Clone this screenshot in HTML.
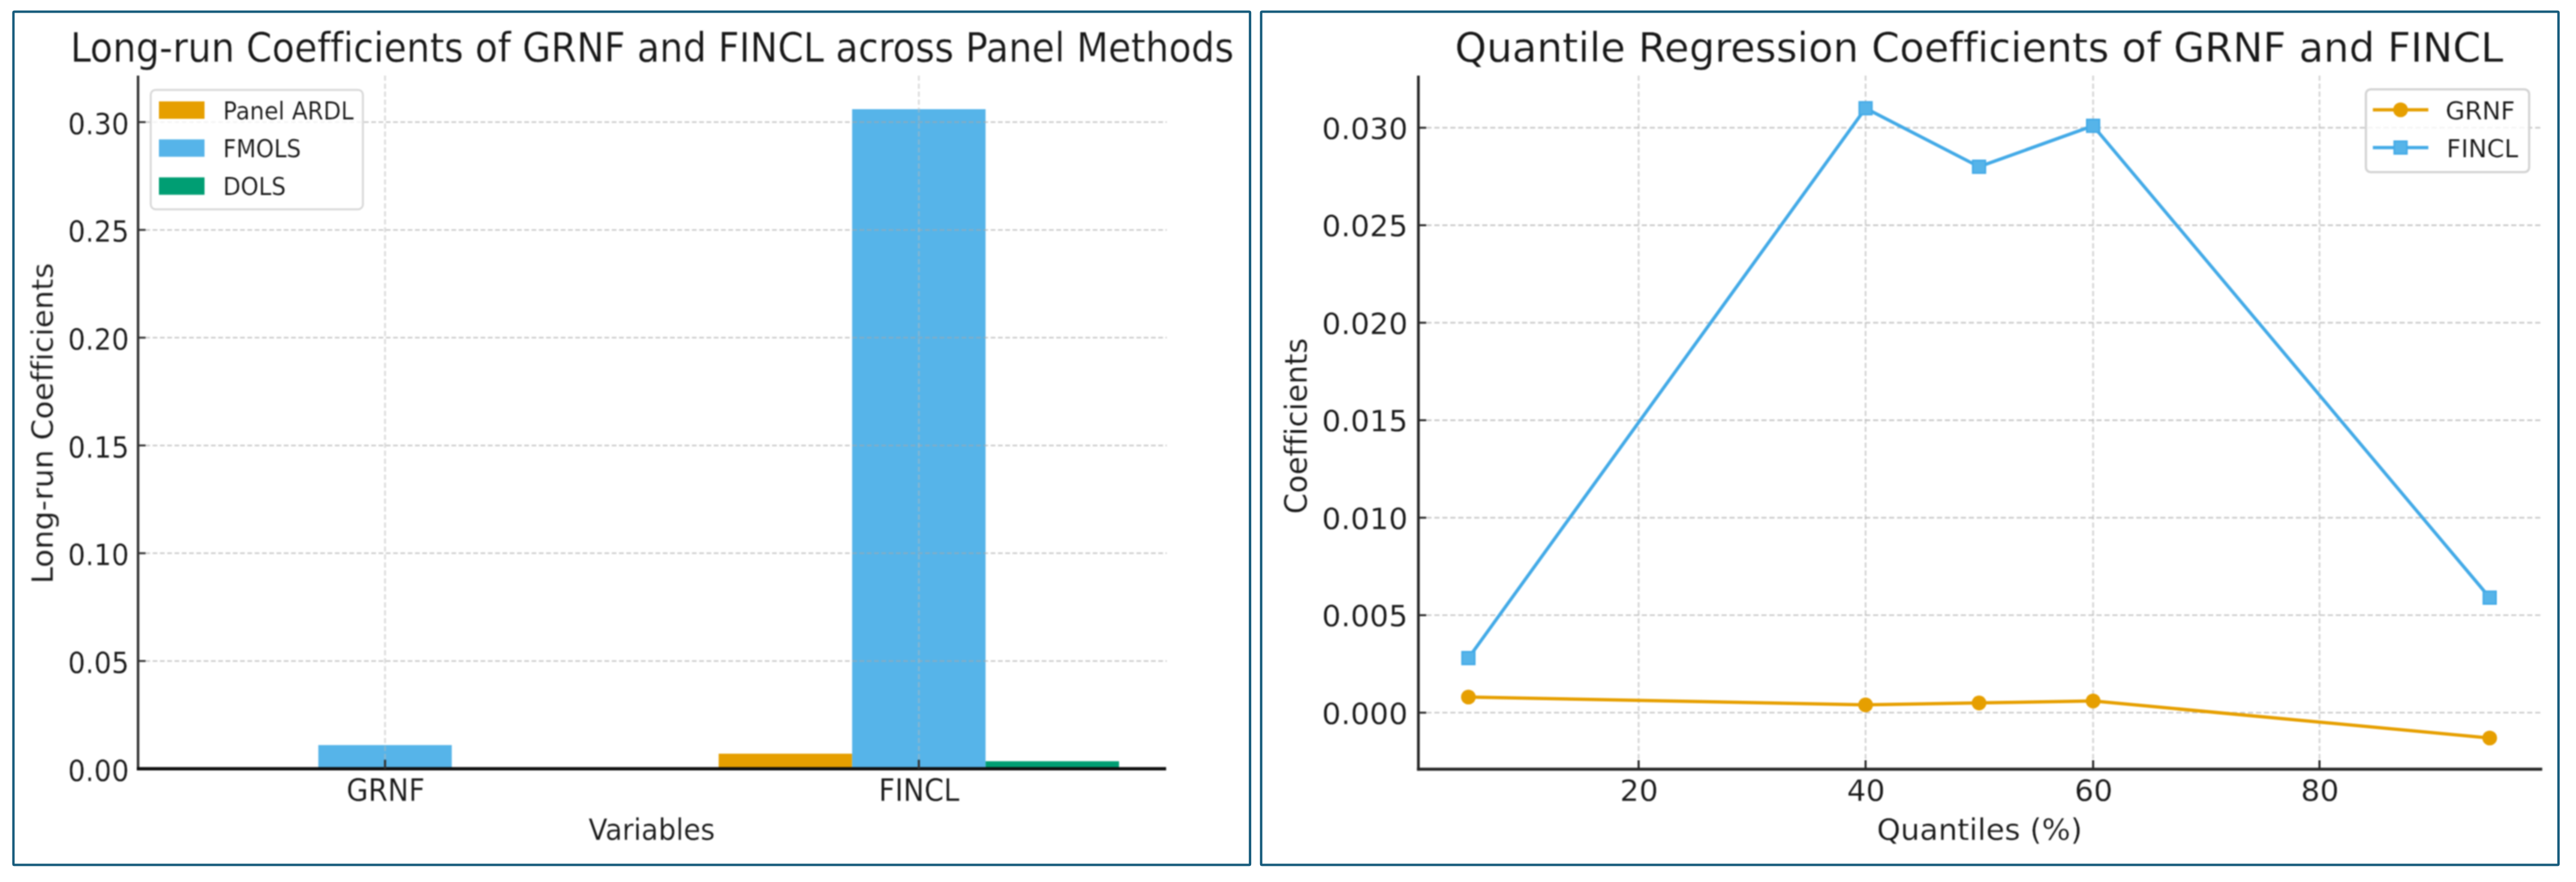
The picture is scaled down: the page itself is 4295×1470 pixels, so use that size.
<!DOCTYPE html>
<html lang="en"><head><meta charset="utf-8"><title>Long-run and Quantile Regression Coefficients of GRNF and FINCL</title>
<style>html,body{margin:0;padding:0;background:#fff}body{width:4295px;height:1470px;overflow:hidden}svg{display:block}text{font-variant-ligatures:none;font-kerning:normal;stroke:#fff;stroke-width:0.006em;paint-order:fill stroke}</style>
</head><body>
<svg width="4295" height="1470" viewBox="0 0 4295 1470" font-family='"DejaVu Sans","Liberation Sans",sans-serif'>
<rect x="0.00" y="0.00" width="4295.00" height="1470.00" fill="#fff" />
<defs><filter id="soft" x="0" y="0" width="100%" height="100%" filterUnits="userSpaceOnUse" color-interpolation-filters="sRGB"><feGaussianBlur stdDeviation="0.85"/></filter></defs>
<g filter="url(#soft)">
<rect x="1198.25" y="1256.15" width="222.50" height="25.15" fill="#E69F00" />
<rect x="530.75" y="1241.78" width="222.50" height="39.52" fill="#56B4E9" />
<rect x="1420.75" y="181.96" width="222.50" height="1099.34" fill="#56B4E9" />
<rect x="1643.25" y="1268.73" width="222.50" height="12.57" fill="#009E73" />
<line x1="230.20" y1="1101.67" x2="1945.30" y2="1101.67" stroke="#a8a8a8" stroke-width="2.5" stroke-dasharray="7.9 4.25" opacity="0.62"/>
<line x1="230.20" y1="922.04" x2="1945.30" y2="922.04" stroke="#a8a8a8" stroke-width="2.5" stroke-dasharray="7.9 4.25" opacity="0.62"/>
<line x1="230.20" y1="742.41" x2="1945.30" y2="742.41" stroke="#a8a8a8" stroke-width="2.5" stroke-dasharray="7.9 4.25" opacity="0.62"/>
<line x1="230.20" y1="562.78" x2="1945.30" y2="562.78" stroke="#a8a8a8" stroke-width="2.5" stroke-dasharray="7.9 4.25" opacity="0.62"/>
<line x1="230.20" y1="383.15" x2="1945.30" y2="383.15" stroke="#a8a8a8" stroke-width="2.5" stroke-dasharray="7.9 4.25" opacity="0.62"/>
<line x1="230.20" y1="203.52" x2="1945.30" y2="203.52" stroke="#a8a8a8" stroke-width="2.5" stroke-dasharray="7.9 4.25" opacity="0.62"/>
<line x1="642.00" y1="126.00" x2="642.00" y2="1281.30" stroke="#b8b8b8" stroke-width="3.0" stroke-dasharray="8.6 4.7" opacity="0.5"/>
<line x1="1532.00" y1="126.00" x2="1532.00" y2="1281.30" stroke="#b8b8b8" stroke-width="3.0" stroke-dasharray="8.6 4.7" opacity="0.5"/>
<line x1="230.20" y1="126.00" x2="230.20" y2="1283.90" stroke="#333333" stroke-width="4.2" />
<line x1="228.10" y1="1281.30" x2="1944.30" y2="1281.30" stroke="#101010" stroke-width="5.6" />
<line x1="230.20" y1="1101.67" x2="242.70" y2="1101.67" stroke="#333333" stroke-width="3.2" />
<line x1="230.20" y1="922.04" x2="242.70" y2="922.04" stroke="#333333" stroke-width="3.2" />
<line x1="230.20" y1="742.41" x2="242.70" y2="742.41" stroke="#333333" stroke-width="3.2" />
<line x1="230.20" y1="562.78" x2="242.70" y2="562.78" stroke="#333333" stroke-width="3.2" />
<line x1="230.20" y1="383.15" x2="242.70" y2="383.15" stroke="#333333" stroke-width="3.2" />
<line x1="230.20" y1="203.52" x2="242.70" y2="203.52" stroke="#333333" stroke-width="3.2" />
<line x1="642.00" y1="1281.30" x2="642.00" y2="1266.30" stroke="#333333" stroke-width="3.6" />
<line x1="1532.00" y1="1281.30" x2="1532.00" y2="1266.30" stroke="#333333" stroke-width="3.6" />
<text transform="translate(215.20,1301.60) scale(0.9170,1)" font-size="50" text-anchor="end" fill="#181818" >0.00</text>
<text transform="translate(215.20,1121.97) scale(0.9170,1)" font-size="50" text-anchor="end" fill="#181818" >0.05</text>
<text transform="translate(215.20,942.34) scale(0.9170,1)" font-size="50" text-anchor="end" fill="#181818" >0.10</text>
<text transform="translate(215.20,762.71) scale(0.9170,1)" font-size="50" text-anchor="end" fill="#181818" >0.15</text>
<text transform="translate(215.20,583.08) scale(0.9170,1)" font-size="50" text-anchor="end" fill="#181818" >0.20</text>
<text transform="translate(215.20,403.45) scale(0.9170,1)" font-size="50" text-anchor="end" fill="#181818" >0.25</text>
<text transform="translate(215.20,223.82) scale(0.9170,1)" font-size="50" text-anchor="end" fill="#181818" >0.30</text>
<text transform="translate(643.00,1335.40) scale(0.9170,1)" font-size="51" text-anchor="middle" fill="#181818" >GRNF</text>
<text transform="translate(1532.50,1335.40) scale(0.9170,1)" font-size="51" text-anchor="middle" fill="#181818" >FINCL</text>
<text transform="translate(1086.75,1400.40) scale(0.9170,1)" font-size="50.3" text-anchor="middle" fill="#181818" >Variables</text>
<text transform="translate(88.50,705.60) scale(0.9850,1) rotate(-90)" font-size="50.1" text-anchor="middle" fill="#181818" >Long-run Coefficients</text>
<text transform="translate(1087.25,102.80) scale(0.9170,1)" font-size="67" text-anchor="middle" fill="#181818" >Long-run Coefficients of GRNF and FINCL across Panel Methods</text>
<rect x="251.3" y="149.8" width="353.8" height="199.0" rx="8" ry="8" fill="#fff" fill-opacity="0.8" stroke="#d8d8d8" stroke-width="3.2"/>
<rect x="265.00" y="169.00" width="76.00" height="29.00" fill="#E69F00" />
<text transform="translate(372.00,198.70) scale(0.9170,1)" font-size="41.5" text-anchor="start" fill="#181818" >Panel ARDL</text>
<rect x="265.00" y="232.30" width="76.00" height="29.00" fill="#56B4E9" />
<text transform="translate(372.00,262.00) scale(0.9170,1)" font-size="41.5" text-anchor="start" fill="#181818" >FMOLS</text>
<rect x="265.00" y="295.60" width="76.00" height="29.00" fill="#009E73" />
<text transform="translate(372.00,325.30) scale(0.9170,1)" font-size="41.5" text-anchor="start" fill="#181818" >DOLS</text>
<line x1="2364.90" y1="1187.80" x2="4239.70" y2="1187.80" stroke="#a8a8a8" stroke-width="2.6" stroke-dasharray="8.6 4.7" opacity="0.62"/>
<line x1="2364.90" y1="1025.32" x2="4239.70" y2="1025.32" stroke="#a8a8a8" stroke-width="2.6" stroke-dasharray="8.6 4.7" opacity="0.62"/>
<line x1="2364.90" y1="862.84" x2="4239.70" y2="862.84" stroke="#a8a8a8" stroke-width="2.6" stroke-dasharray="8.6 4.7" opacity="0.62"/>
<line x1="2364.90" y1="700.36" x2="4239.70" y2="700.36" stroke="#a8a8a8" stroke-width="2.6" stroke-dasharray="8.6 4.7" opacity="0.62"/>
<line x1="2364.90" y1="537.88" x2="4239.70" y2="537.88" stroke="#a8a8a8" stroke-width="2.6" stroke-dasharray="8.6 4.7" opacity="0.62"/>
<line x1="2364.90" y1="375.40" x2="4239.70" y2="375.40" stroke="#a8a8a8" stroke-width="2.6" stroke-dasharray="8.6 4.7" opacity="0.62"/>
<line x1="2364.90" y1="212.92" x2="4239.70" y2="212.92" stroke="#a8a8a8" stroke-width="2.6" stroke-dasharray="8.6 4.7" opacity="0.62"/>
<line x1="2732.10" y1="126.00" x2="2732.10" y2="1282.00" stroke="#b8b8b8" stroke-width="3.0" stroke-dasharray="8.6 4.7" opacity="0.6"/>
<line x1="3110.50" y1="126.00" x2="3110.50" y2="1282.00" stroke="#b8b8b8" stroke-width="3.0" stroke-dasharray="8.6 4.7" opacity="0.6"/>
<line x1="3489.90" y1="126.00" x2="3489.90" y2="1282.00" stroke="#b8b8b8" stroke-width="3.0" stroke-dasharray="8.6 4.7" opacity="0.6"/>
<line x1="3867.30" y1="126.00" x2="3867.30" y2="1282.00" stroke="#b8b8b8" stroke-width="3.0" stroke-dasharray="8.6 4.7" opacity="0.6"/>
<line x1="2364.90" y1="126.00" x2="2364.90" y2="1284.30" stroke="#262626" stroke-width="4.5" />
<line x1="2362.65" y1="1282.00" x2="4238.70" y2="1282.00" stroke="#262626" stroke-width="4.9" />
<line x1="2364.90" y1="1187.80" x2="2377.90" y2="1187.80" stroke="#262626" stroke-width="3.2" />
<line x1="2364.90" y1="1025.32" x2="2377.90" y2="1025.32" stroke="#262626" stroke-width="3.2" />
<line x1="2364.90" y1="862.84" x2="2377.90" y2="862.84" stroke="#262626" stroke-width="3.2" />
<line x1="2364.90" y1="700.36" x2="2377.90" y2="700.36" stroke="#262626" stroke-width="3.2" />
<line x1="2364.90" y1="537.88" x2="2377.90" y2="537.88" stroke="#262626" stroke-width="3.2" />
<line x1="2364.90" y1="375.40" x2="2377.90" y2="375.40" stroke="#262626" stroke-width="3.2" />
<line x1="2364.90" y1="212.92" x2="2377.90" y2="212.92" stroke="#262626" stroke-width="3.2" />
<line x1="2732.10" y1="1282.00" x2="2732.10" y2="1267.00" stroke="#262626" stroke-width="3.4" />
<line x1="3110.50" y1="1282.00" x2="3110.50" y2="1267.00" stroke="#262626" stroke-width="3.4" />
<line x1="3489.90" y1="1282.00" x2="3489.90" y2="1267.00" stroke="#262626" stroke-width="3.4" />
<line x1="3867.30" y1="1282.00" x2="3867.30" y2="1267.00" stroke="#262626" stroke-width="3.4" />
<polyline points="2448.3,1161.8 3110.5,1174.8 3299.7,1171.6 3489.9,1168.3 4151.1,1230.0" fill="none" stroke="#E69F00" stroke-width="5.5" stroke-linejoin="round"/>
<circle cx="2448.3" cy="1161.8" r="12.3" fill="#E69F00"/>
<circle cx="3110.5" cy="1174.8" r="12.3" fill="#E69F00"/>
<circle cx="3299.7" cy="1171.6" r="12.3" fill="#E69F00"/>
<circle cx="3489.9" cy="1168.3" r="12.3" fill="#E69F00"/>
<circle cx="4151.1" cy="1230.0" r="12.3" fill="#E69F00"/>
<polyline points="2448.3,1096.8 3110.5,180.4 3299.7,277.9 3489.9,209.7 4151.1,996.1" fill="none" stroke="#43aae7" stroke-width="5.5" stroke-linejoin="round"/>
<rect x="2437.70" y="1086.21" width="21.20" height="21.20" fill="#56B4E9" stroke="#43aae7" stroke-width="2.6"/>
<rect x="3099.90" y="169.82" width="21.20" height="21.20" fill="#56B4E9" stroke="#43aae7" stroke-width="2.6"/>
<rect x="3289.10" y="267.31" width="21.20" height="21.20" fill="#56B4E9" stroke="#43aae7" stroke-width="2.6"/>
<rect x="3479.30" y="199.07" width="21.20" height="21.20" fill="#56B4E9" stroke="#43aae7" stroke-width="2.6"/>
<rect x="4140.50" y="985.47" width="21.20" height="21.20" fill="#56B4E9" stroke="#43aae7" stroke-width="2.6"/>
<text transform="translate(2347.20,1206.70)" font-size="50" text-anchor="end" fill="#181818" >0.000</text>
<text transform="translate(2347.20,1044.22)" font-size="50" text-anchor="end" fill="#181818" >0.005</text>
<text transform="translate(2347.20,881.74)" font-size="50" text-anchor="end" fill="#181818" >0.010</text>
<text transform="translate(2347.20,719.26)" font-size="50" text-anchor="end" fill="#181818" >0.015</text>
<text transform="translate(2347.20,556.78)" font-size="50" text-anchor="end" fill="#181818" >0.020</text>
<text transform="translate(2347.20,394.30)" font-size="50" text-anchor="end" fill="#181818" >0.025</text>
<text transform="translate(2347.20,231.82)" font-size="50" text-anchor="end" fill="#181818" >0.030</text>
<text transform="translate(2732.90,1335.40)" font-size="50" text-anchor="middle" fill="#181818" >20</text>
<text transform="translate(3111.30,1335.40)" font-size="50" text-anchor="middle" fill="#181818" >40</text>
<text transform="translate(3490.70,1335.40)" font-size="50" text-anchor="middle" fill="#181818" >60</text>
<text transform="translate(3868.10,1335.40)" font-size="50" text-anchor="middle" fill="#181818" >80</text>
<text transform="translate(3300.50,1400.20)" font-size="50.4" text-anchor="middle" fill="#181818" >Quantiles (%)</text>
<text transform="translate(2179.30,710.00) scale(1.0500,1) rotate(-90)" font-size="49.8" text-anchor="middle" fill="#181818" >Coefficients</text>
<text transform="translate(3299.80,102.80)" font-size="67.2" text-anchor="middle" fill="#181818" >Quantile Regression Coefficients of GRNF and FINCL</text>
<rect x="3944.7" y="148.8" width="272.2" height="138.1" rx="8" ry="8" fill="#fff" fill-opacity="0.8" stroke="#d4d4d4" stroke-width="3.8"/>
<line x1="3956.30" y1="183.00" x2="4048.80" y2="183.00" stroke="#E69F00" stroke-width="5.5" />
<circle cx="4002.5" cy="183" r="12.3" fill="#E69F00"/>
<line x1="3956.30" y1="245.90" x2="4048.80" y2="245.90" stroke="#43aae7" stroke-width="5.5" />
<rect x="3991.90" y="235.30" width="21.20" height="21.20" fill="#56B4E9" stroke="#43aae7" stroke-width="2.6"/>
<text transform="translate(4077.50,199.00)" font-size="41.5" text-anchor="start" fill="#181818" >GRNF</text>
<text transform="translate(4079.30,262.00)" font-size="41.5" text-anchor="start" fill="#181818" >FINCL</text>
</g>
<rect x="22.40" y="19.60" width="2061.80" height="1421.90" fill="none" stroke="#155a7b" stroke-width="4.0" rx="1.5" ry="1.5"/>
<rect x="2102.70" y="19.60" width="2163.10" height="1421.90" fill="none" stroke="#155a7b" stroke-width="4.0" rx="1.5" ry="1.5"/>
</svg>
</body></html>
